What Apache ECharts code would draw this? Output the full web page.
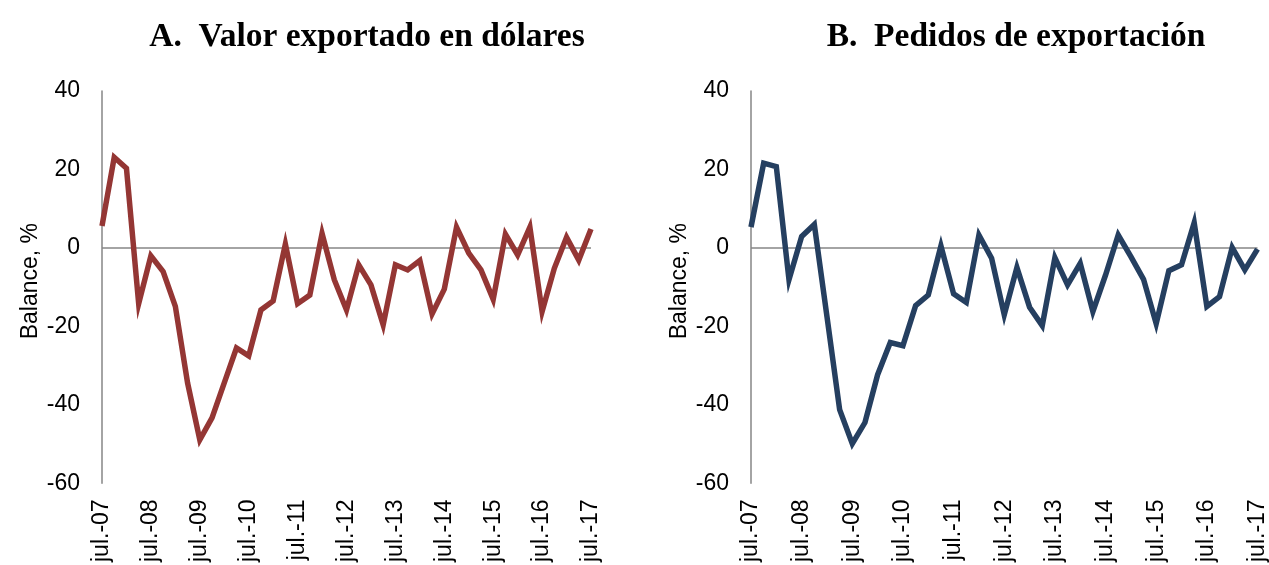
<!DOCTYPE html>
<html>
<head>
<meta charset="utf-8">
<script src="https://cdn.jsdelivr.net/npm/echarts@6/dist/echarts.min.js"></script>
<style>
html,body{margin:0;padding:0;background:#fff;}
#c{width:1269px;height:565px;}
</style>
</head>
<body>
<div id="c"></div>
<script>
// Quarterly categories jul.-07 .. jul.-17
const months = ["jul.", "oct.", "ene.", "abr."];
const categories = [];
for (let i = 0; i < 41; i++) {
  const m = months[i % 4];
  const yr = 7 + Math.floor((i + 2) / 4);
  categories.push(m + "-" + String(yr).padStart(2, "0"));
}

const valorExportado = [5.6, 23.1, 20.3, -14.2, -2.0, -6.0, -14.9, -34.4, -48.9, -43.3,
  -34.4, -25.5, -27.5, -15.8, -13.5, 1.0, -14.2, -12.0, 3.7, -8.1,
  -15.8, -4.3, -9.4, -19.6, -4.3, -5.6, -3.2, -16.8, -10.5, 5.3,
  -1.3, -5.6, -13.1, 3.5, -1.8, 5.3, -16.2, -5.2, 2.7, -3.1, 4.8];

const pedidosExportacion = [5.3, 21.6, 20.7, -8.1, 2.9, 6.0, -17.5, -41.2, -49.9, -44.5,
  -32.3, -24.1, -24.9, -14.7, -12.0, 0.5, -11.7, -13.9, 3.3, -2.6,
  -17.0, -5.0, -15.1, -19.8, -2.5, -9.4, -3.9, -16.2, -6.9, 3.3,
  -2.2, -8.0, -19.3, -5.8, -4.3, 6.4, -14.9, -12.4, 0.1, -5.6, -0.3];

const titles = ["A.  Valor exportado en dólares", "B.  Pedidos de exportación"];
const yName = "Balance, %";

const axisGrey = "#868686";
const sans = "Liberation Sans, Arial, sans-serif";
const grids = [
  {left: 102, top: 91, width: 489, height: 393},
  {left: 751, top: 91, width: 507, height: 393}
];

function xAx(i) {
  return {
    type: "category", gridIndex: i, data: categories, boundaryGap: false,
    axisLine: {show: false, onZero: false}, axisTick: {show: false},
    axisLabel: {
      interval: 3, rotate: 90, color: "#000", fontSize: 23,
      fontFamily: sans, margin: 16
    },
    splitLine: {show: false}
  };
}
function yAx(i) {
  return {
    type: "value", gridIndex: i, min: -60, max: 40, interval: 20,
    name: yName, nameLocation: "middle", nameGap: 60, nameRotate: 90,
    nameTextStyle: {color: "#000", fontSize: 23, fontFamily: sans, padding: [0, 0, 0, 12]},
    axisLine: {show: true, lineStyle: {color: axisGrey, width: 1.5}},
    axisTick: {show: false},
    axisLabel: {color: "#000", fontSize: 23, fontFamily: sans, margin: 22},
    splitLine: {show: false}
  };
}
function ser(i, data, color) {
  return {
    type: "line", xAxisIndex: i, yAxisIndex: i, data: data,
    symbol: "none", lineStyle: {color: color, width: 5.5, join: "miter"},
    itemStyle: {color: color},
    z: 3,
    markLine: {
      silent: true, symbol: "none", label: {show: false},
      lineStyle: {color: axisGrey, width: 1.5, type: "solid"},
      data: [{yAxis: 0}], z: 1, animation: false
    }
  };
}

const titleStyle = {fontFamily: "Liberation Serif, serif", fontWeight: "bold", fontSize: 33.5, color: "#000"};
const chart = echarts.init(document.getElementById("c"), null, {renderer: "canvas"});
chart.setOption({
  animation: false,
  backgroundColor: "#fff",
  title: [
    {text: titles[0], left: 362, top: 15, textAlign: "center", textStyle: titleStyle},
    {text: titles[1], left: 1011, top: 15, textAlign: "center", textStyle: titleStyle}
  ],
  grid: grids,
  xAxis: [xAx(0), xAx(1)],
  yAxis: [yAx(0), yAx(1)],
  series: [
    ser(0, valorExportado, "#943634"),
    ser(1, pedidosExportacion, "#253F60")
  ]
});
</script>
</body>
</html>
